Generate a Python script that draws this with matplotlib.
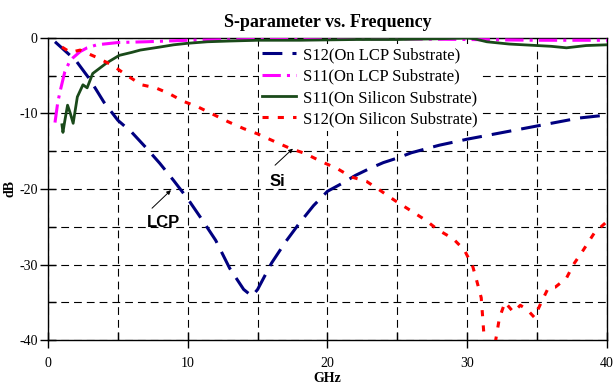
import matplotlib
matplotlib.use("Agg")
import matplotlib.pyplot as plt
from matplotlib.ticker import MultipleLocator

plt.rcParams['font.family'] = ['Liberation Serif', 'DejaVu Serif']
plt.rcParams['axes.unicode_minus'] = False

# S12 on LCP substrate
f_s12_lcp = [0.5, 2, 3, 4, 5, 6, 7, 8, 9, 10, 11, 12, 13, 14, 14.6, 15, 16, 17, 18, 19,
             20, 21, 22, 23, 24, 25, 26, 27, 28, 29, 30, 32, 34, 36, 38, 40]
s12_lcp = [-0.5, -3.0, -5.5, -8.5, -10.9, -12.5, -14.5, -16.6, -18.9, -21.3, -24.0, -26.8,
           -30.5, -33.3, -34.2, -33.3, -29.8, -27.0, -24.5, -22.2, -20.3, -19.3, -18.2,
           -17.3, -16.5, -15.9, -15.2, -14.7, -14.2, -13.8, -13.4, -12.7, -12.0, -11.3,
           -10.6, -10.2]

# S11 on LCP substrate
f_s11_lcp = [0.5, 0.7, 0.9, 1.2, 1.5, 1.8, 2.3, 2.8, 3.5, 5, 7, 10, 15, 20, 25, 30, 35, 40]
s11_lcp = [-11.2, -8.5, -6.8, -4.5, -3.3, -2.6, -1.8, -1.3, -0.9, -0.6, -0.5, -0.3, -0.2,
           -0.15, -0.1, -0.2, -0.3, -0.3]

# S11 on silicon substrate
f_s11_si = [1.0, 1.07, 1.2, 1.4, 1.6, 1.8, 2.1, 2.5, 2.8, 3.2, 3.7, 4.2, 5.1, 6.0, 6.6, 8,
            9, 10, 11.4, 13, 15, 18, 20, 22, 25, 28, 30, 30.5, 31.4, 33, 35, 36, 37.1,
            38.5, 40]
s11_si = [-11.5, -12.5, -11.0, -8.9, -10.0, -11.3, -7.8, -6.2, -6.6, -4.7, -4.0, -3.3,
          -2.3, -1.9, -1.6, -1.2, -0.9, -0.7, -0.5, -0.4, -0.3, -0.3, -0.25, -0.2, -0.2,
          -0.1, 0.0, -0.1, -0.5, -0.8, -1.0, -1.1, -1.3, -1.0, -0.9]

# S12 on silicon substrate
f_s12_si = [1.0, 1.6, 2.3, 3.4, 4.6, 5.6, 6.7, 7.7, 8.6, 9.7, 10.7, 11.8, 12.9, 14, 15,
            16.2, 17.3, 18.4, 19.6, 20.7, 21.7, 22.8, 23.7, 24.8, 25.9, 27, 27.9, 29,
            29.8, 30.4, 30.7, 31.0, 31.1, 31.2, 31.5, 31.9, 32.1, 32.3, 32.7, 33.3, 33.8,
            34.3, 34.8, 35.3, 35.8, 36.3, 37.1, 37.6, 38.3, 39.1, 40]
s12_si = [-1.2, -1.9, -1.6, -2.5, -3.6, -4.9, -6.2, -6.6, -7.3, -8.4, -9.1, -10.1, -11.1,
          -12.0, -12.7, -13.7, -14.6, -15.3, -16.4, -17.3, -18.4, -19.0, -20.1, -21.5,
          -22.8, -24.1, -25.4, -26.6, -28.1, -30.3, -32.3, -34.4, -36.9, -39.5, -42.0,
          -41.5, -39.3, -37.1, -35.0, -36.3, -35.4, -36.0, -37.0, -35.0, -33.1, -33.0,
          -31.8, -30.0, -28.1, -25.8, -24.3]

fig = plt.figure(figsize=(6.13, 3.85), dpi=100)
ax = fig.add_axes([48 / 613, 1 - 340 / 385, 559 / 613, 302 / 385])

ax.plot(f_s12_lcp, s12_lcp, color='#000080', lw=2.2, linestyle=(0, (6.5, 3.3)),
        label='S12(On LCP Substrate)', zorder=3)
ax.plot(f_s11_lcp, s11_lcp, color='#FF00FF', lw=2.2, linestyle=(0, (6, 2, 1, 2)),
        label='S11(On LCP Substrate)', zorder=3)
ax.plot(f_s11_si, s11_si, color='#1a4a1a', lw=2.0, linestyle='-',
        label='S11(On Silicon Substrate)', zorder=3)
ax.plot(f_s12_si, s12_si, color='#FF0000', lw=2.2, linestyle=(0, (2.0, 3.0)),
        label='S12(On Silicon Substrate)', zorder=3)

ax.set_xlim(0, 40)
ax.set_ylim(-40, 0)
ax.xaxis.set_major_locator(MultipleLocator(10))
ax.xaxis.set_minor_locator(MultipleLocator(5))
ax.yaxis.set_major_locator(MultipleLocator(10))
ax.yaxis.set_minor_locator(MultipleLocator(5))
ax.tick_params(which='major', direction='inout', length=11, width=1, labelsize=10, pad=7)
ax.tick_params(which='minor', direction='in', length=6, width=1)
ax.tick_params(axis='y', which='major', pad=2)
ax.grid(True, which='both', color='black', lw=0.8, linestyle=(0, (7, 4.5)))
for sp in ax.spines.values():
    sp.set_linewidth(1.0)

ax.set_title('S-parameter vs. Frequency', fontsize=13, fontweight='bold', pad=8)
ax.set_xlabel('GHz', fontsize=10, fontweight='bold', labelpad=1)
ax.set_ylabel('dB', fontsize=10, fontweight='bold')
ax.yaxis.set_label_coords(-0.056, 0.5)

leg = ax.legend(loc='upper left', bbox_to_anchor=(259 / 613, 1 - 44 / 385),
                bbox_transform=fig.transFigure, fontsize=12, frameon=True,
                fancybox=False, edgecolor='none', facecolor='white', framealpha=1,
                handlelength=2.0, handletextpad=0.45, labelspacing=0.32, borderpad=0.2,
                borderaxespad=0)
leg.set_zorder(4)

arrow = dict(arrowstyle='-|>', color='black', lw=0.7, mutation_scale=6)
ax.annotate('', xy=(8.94, -19.9), xytext=(7.3, -22.8), arrowprops=arrow)
ax.text(8.23, -24.5, 'LCP', fontsize=12, fontweight='bold', family='Liberation Sans',
        ha='center', va='center')
ax.annotate('', xy=(17.67, -14.4), xytext=(16.1, -17.1), arrowprops=arrow)
ax.text(16.4, -19.0, 'Si', fontsize=12, fontweight='bold', family='Liberation Sans',
        ha='center', va='center')

fig.savefig('out.png', dpi=100)
